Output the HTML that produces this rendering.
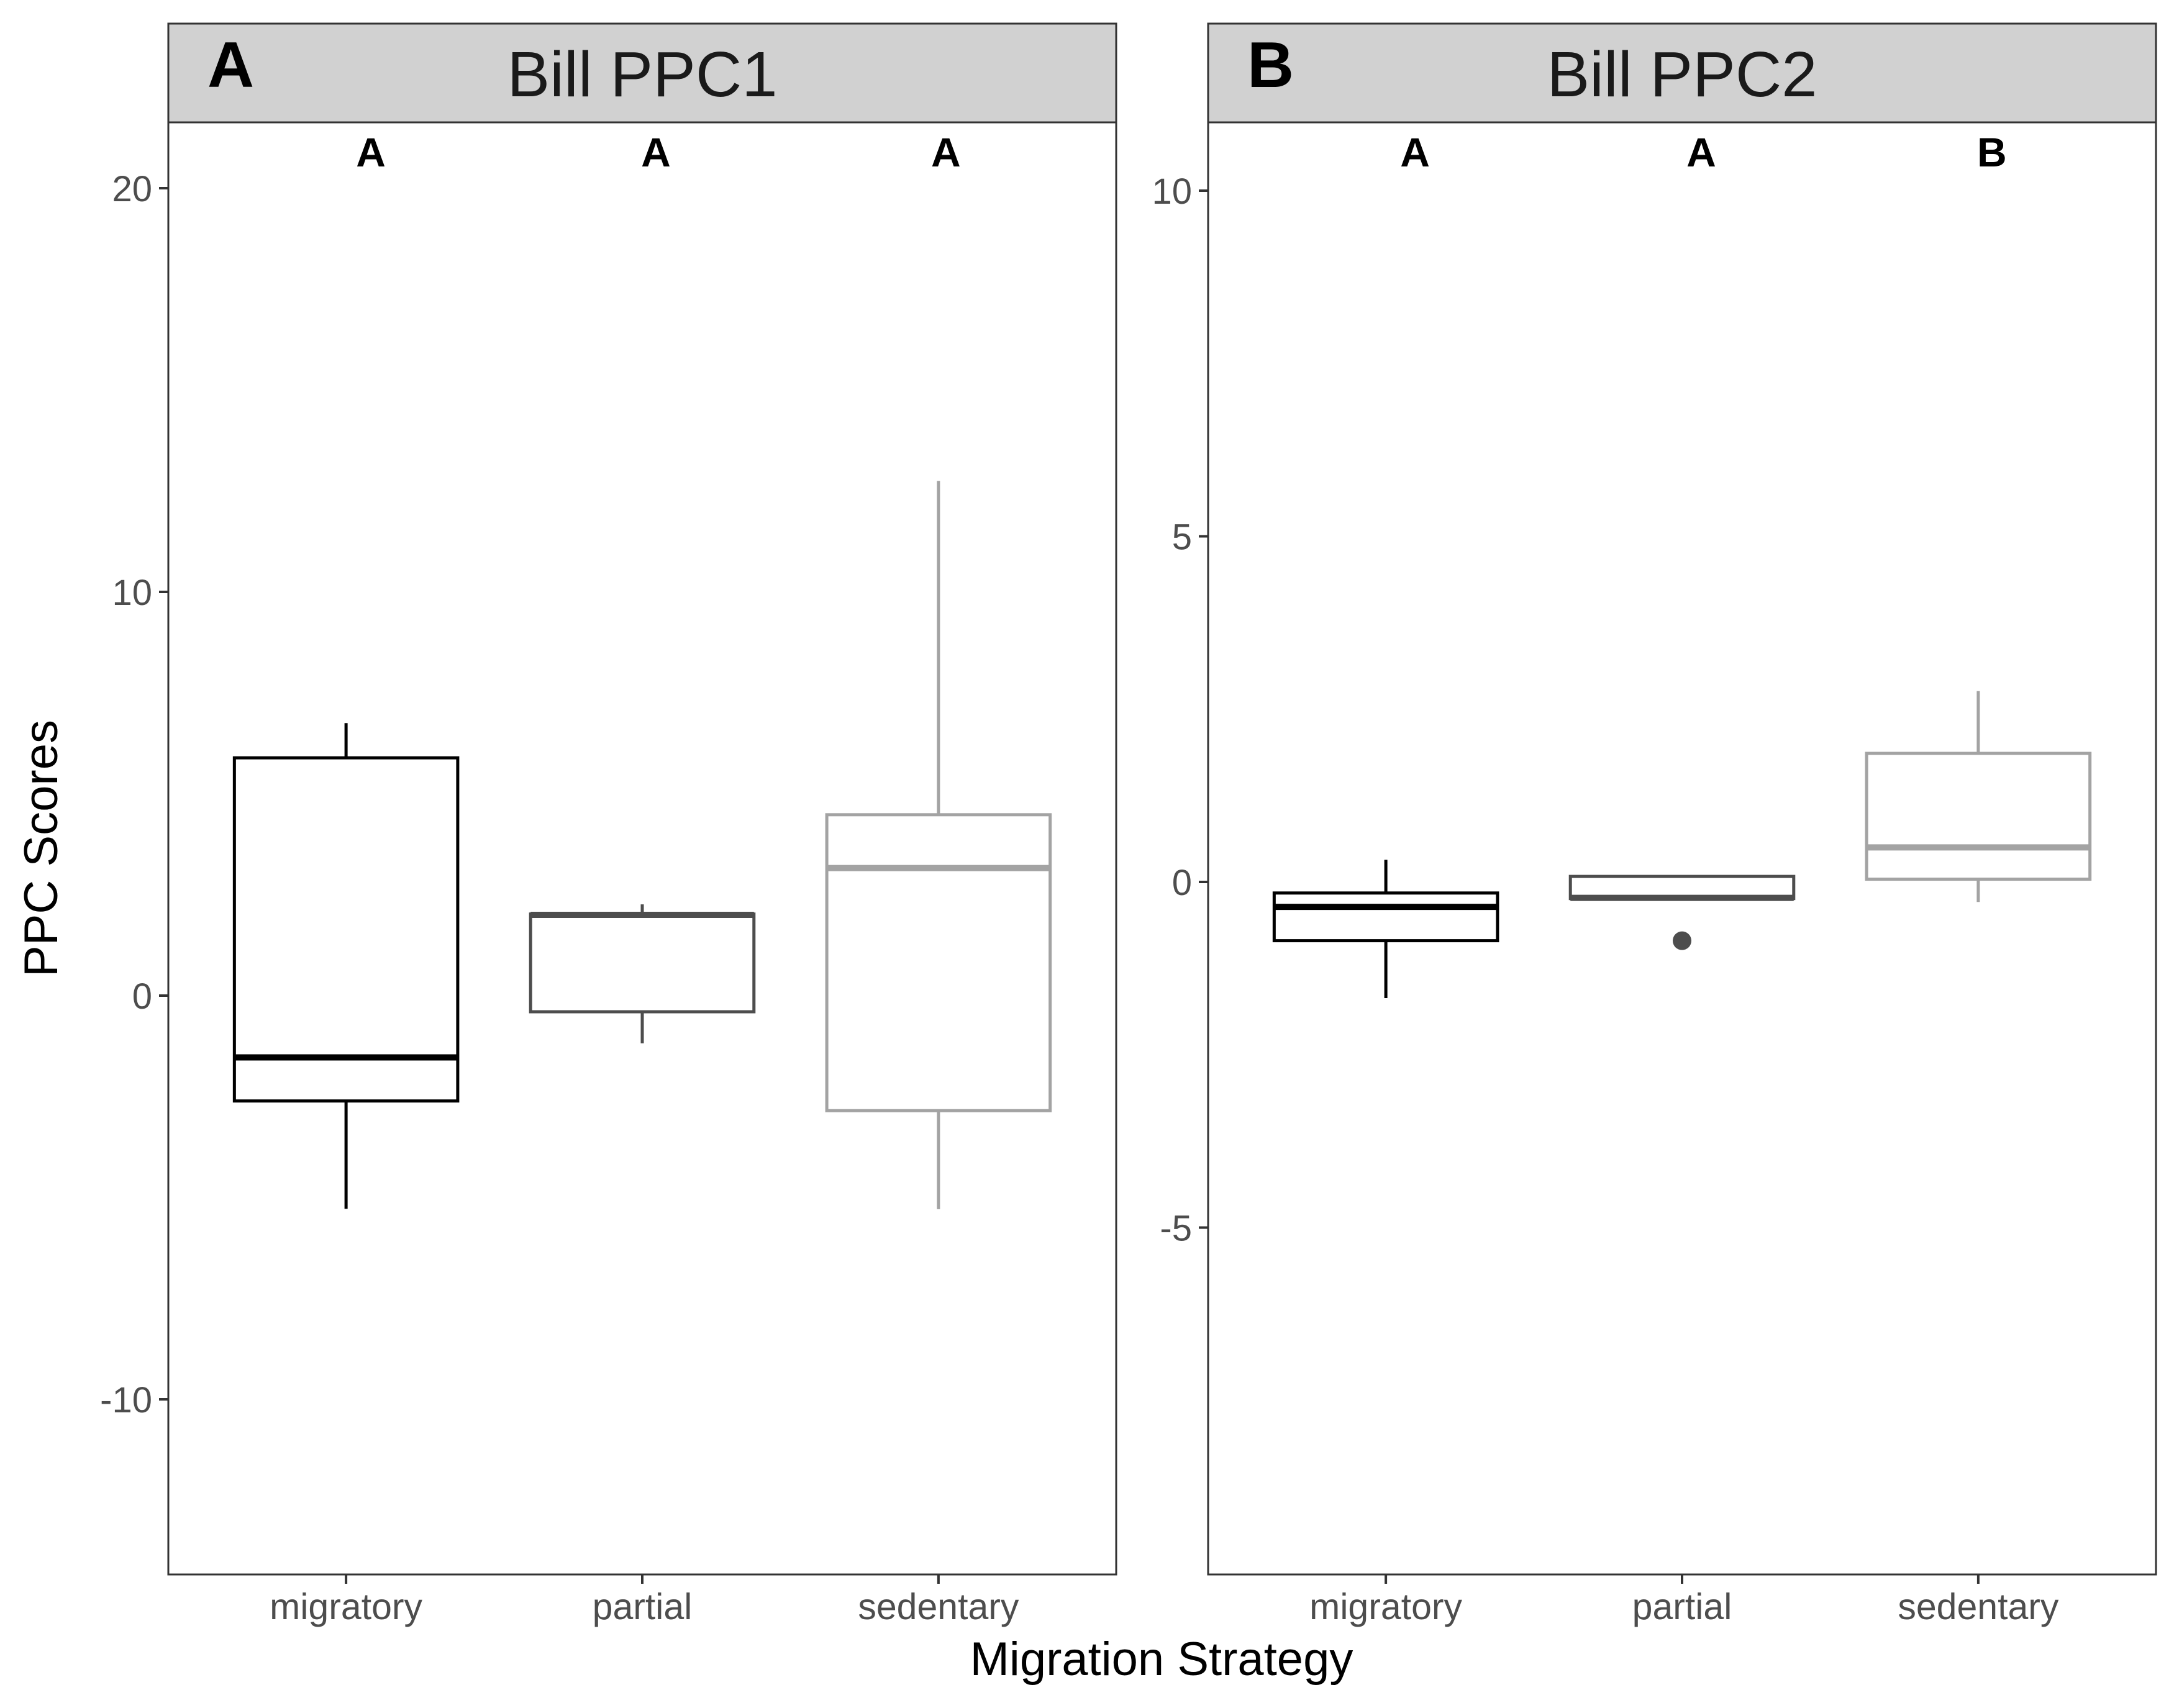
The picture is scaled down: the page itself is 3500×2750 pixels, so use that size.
<!DOCTYPE html>
<html><head><meta charset="utf-8"><style>
html,body{margin:0;padding:0;background:#fff;}
svg{display:block;}
text{font-family:"Liberation Sans",Arial,sans-serif;}
</style></head><body>
<svg id="chart" width="3500" height="2750" viewBox="0 0 3500 2750" xmlns="http://www.w3.org/2000/svg">
<g id="root"></g>
</svg>
<script>
const categories = ["migratory", "partial", "sedentary"];
const colors = ["#000000", "#4d4d4d", "#a3a3a3"];
// Panel A: Bill PPC1
const ppc1Lower = [-5.28, -1.18, -5.29];
const ppc1Q1 = [-2.61, -0.40, -2.85];
const ppc1Median = [-1.53, 2.0, 3.16];
const ppc1Q3 = [5.89, 2.02, 4.48];
const ppc1Upper = [6.75, 2.26, 12.75];
const ppc1Outliers = [[], [], []];
const ppc1Letters = ["A", "A", "A"];
const ppc1Ticks = [-10, 0, 10, 20];
// Panel B: Bill PPC2
const ppc2Lower = [-1.68, -0.24, -0.29];
const ppc2Q1 = [-0.85, -0.24, 0.04];
const ppc2Median = [-0.36, -0.23, 0.50];
const ppc2Q3 = [-0.16, 0.08, 1.86];
const ppc2Upper = [0.32, 0.08, 2.76];
const ppc2Outliers = [[], [-0.85], []];
const ppc2Letters = ["A", "A", "B"];
const ppc2Ticks = [-5, 0, 5, 10];

const NS = "http://www.w3.org/2000/svg";
const root = document.getElementById("root");
function mk(tag, attrs, parent, text) {
  const e = document.createElementNS(NS, tag);
  for (const k in attrs) e.setAttribute(k, attrs[k]);
  if (text !== undefined) e.textContent = text;
  (parent || root).appendChild(e);
  return e;
}

const panelTop = 197, panelBottom = 2535, stripTop = 38;
const panels = [
  {x0: 271, x1: 1797, tag: "A", title: "Bill PPC1", zeroY: 1603, perUnit: 65.0,
   lower: ppc1Lower, q1: ppc1Q1, med: ppc1Median, q3: ppc1Q3, upper: ppc1Upper, out: ppc1Outliers,
   letters: ppc1Letters, ticks: ppc1Ticks, letterOffset: [40, 22, 12]},
  {x0: 1945, x1: 3471, tag: "B", title: "Bill PPC2", zeroY: 1420, perUnit: 111.3,
   lower: ppc2Lower, q1: ppc2Q1, med: ppc2Median, q3: ppc2Q3, upper: ppc2Upper, out: ppc2Outliers,
   letters: ppc2Letters, ticks: ppc2Ticks, letterOffset: [47, 31, 22]}
];

panels.forEach((p, pi) => {
  const g = mk("g", {});
  
  
  const yScale = v => p.zeroY - v * p.perUnit;
  const unit = (p.x1 - p.x0) / 3.2;
  const xScale = i => p.x0 + unit * (0.6 + i);
  const halfW = unit * 0.377;

  const strip = mk("rect", {x: p.x0, y: stripTop, width: p.x1 - p.x0, height: panelTop - stripTop, fill: "#d1d1d1", stroke: "#333", "stroke-width": 3}, g);
  
  
  const st = mk("text", {x: (p.x0 + p.x1) / 2, y: 155, "text-anchor": "middle", "font-size": 103, fill: "#1a1a1a"}, g, p.title);
  
  
  const tagT = mk("text", {x: p.x0 + 63, y: 140, "font-size": 104, "font-weight": "bold", fill: "#000"}, g, p.tag);
  
  

  const border = mk("rect", {x: p.x0, y: panelTop, width: p.x1 - p.x0, height: panelBottom - panelTop, fill: "none", stroke: "#333", "stroke-width": 3}, g);
  
  

  p.ticks.forEach(t => {
    const y = yScale(t);
    const tl = mk("line", {x1: p.x0 - 15, x2: p.x0, y1: y, y2: y, stroke: "#333", "stroke-width": 4}, g);
    
    
    const tt = mk("text", {x: p.x0 - 26, y: y + 21, "text-anchor": "end", "font-size": 58, fill: "#4d4d4d"}, g, String(t));
    
    
  });

  categories.forEach((c, i) => {
    const cx = xScale(i);
    const col = colors[i];
    const xt = mk("line", {x1: cx, x2: cx, y1: panelBottom, y2: panelBottom + 15, stroke: "#333", "stroke-width": 4}, g);
    
    
    const xl = mk("text", {x: cx, y: 2607, "text-anchor": "middle", "font-size": 59, fill: "#4d4d4d"}, g, c);
    
    

    const bg = mk("g", {}, g);
    
    
    const wu = mk("line", {x1: cx, x2: cx, y1: yScale(p.upper[i]), y2: yScale(p.q3[i]), stroke: col, "stroke-width": 5}, bg);
    
    
    const wl = mk("line", {x1: cx, x2: cx, y1: yScale(p.q1[i]), y2: yScale(p.lower[i]), stroke: col, "stroke-width": 5}, bg);
    
    
    const yTop = yScale(p.q3[i]), yBot = yScale(p.q1[i]);
    const box = mk("rect", {x: cx - halfW, y: yTop, width: 2 * halfW, height: Math.max(yBot - yTop, 0.5), fill: "#fff", stroke: col, "stroke-width": 5}, bg);
    
    
    const my = yScale(p.med[i]);
    const med = mk("line", {x1: cx - halfW, x2: cx + halfW, y1: my, y2: my, stroke: col, "stroke-width": 10}, bg);
    
    
    p.out[i].forEach(v => {
      const o = mk("circle", {cx: cx, cy: yScale(v), r: 15, fill: col}, bg);
      
      
    });
    const lt = mk("text", {x: cx + p.letterOffset[i], y: 268, "text-anchor": "middle", "font-size": 66, "font-weight": "bold", fill: "#000"}, g, p.letters[i]);
    
    
  });
});

const xt = mk("text", {x: 1870, y: 2697, "text-anchor": "middle", "font-size": 76, fill: "#000"}, root, "Migration Strategy");


const yt = mk("text", {x: 0, y: 0, "text-anchor": "middle", "font-size": 76, fill: "#000", transform: "translate(92,1366) rotate(-90)"}, root, "PPC Scores");


</script>
</body></html>
